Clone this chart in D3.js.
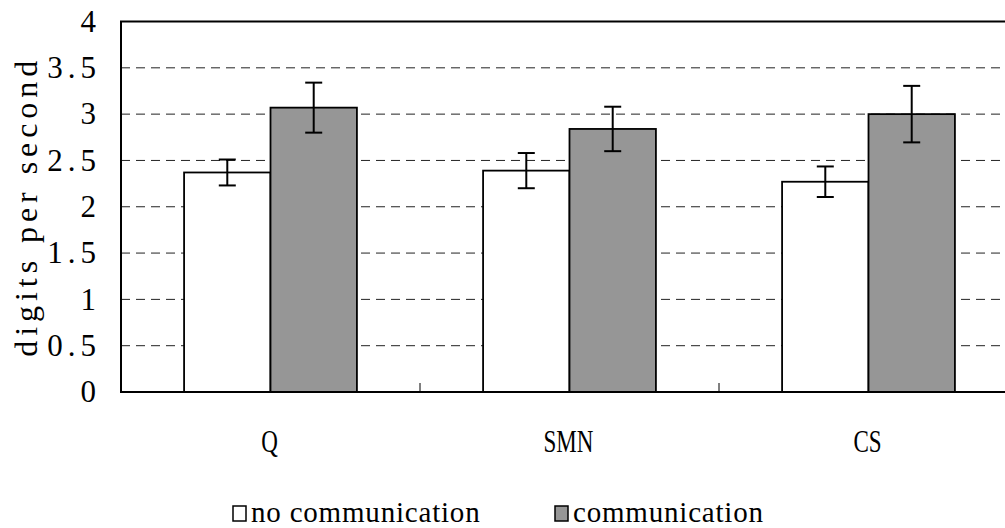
<!DOCTYPE html>
<html>
<head>
<meta charset="utf-8">
<script src="https://cdn.jsdelivr.net/npm/d3@7"></script>
<style>
  body { margin: 0; background: #fff; }
  text { font-family: "Liberation Serif", "DejaVu Serif", serif; fill: #000; }
</style>
</head>
<body>
<svg id="chart" width="1005" height="528"></svg>
<script>
// data
var categories = ["Q", "SMN", "CS"];
var seriesNames = ["no communication", "communication"];
var noComm = [2.37, 2.39, 2.27];
var noCommErr = [0.14, 0.19, 0.165];
var comm = [3.07, 2.84, 3.0];
var commErr = [0.27, 0.24, 0.305];
var yTicks = [0, 0.5, 1, 1.5, 2, 2.5, 3, 3.5, 4];
var seriesColors = ["#ffffff", "#969696"];

var svg = d3.select("#chart");
// note: "top" is taken by window.top, so use plot* names
var plotLeft = 121, plotRight = 1018, plotTop = 21.5, plotBottom = 392;

var x0 = d3.scaleBand().domain(categories).range([plotLeft, plotRight]).padding(0);
var x1 = d3.scaleBand().domain(seriesNames).range([0, x0.bandwidth()])
  .paddingInner(0).paddingOuter(0.73);
var y = d3.scaleLinear().domain([0, 4]).range([plotBottom, plotTop]);

var rows = categories.map(function(c, i) {
  return {
    cat: c,
    values: [
      { name: seriesNames[0], v: noComm[i], e: noCommErr[i], color: seriesColors[0] },
      { name: seriesNames[1], v: comm[i], e: commErr[i], color: seriesColors[1] }
    ]
  };
});

// dashed grid lines
svg.append("g").selectAll("line")
  .data(yTicks.filter(function(d) { return d > 0 && d < 4; }))
  .enter().append("line")
  .attr("x1", plotLeft).attr("x2", plotRight)
  .attr("y1", function(d) { return y(d); })
  .attr("y2", function(d) { return y(d); })
  .attr("stroke", "#222")
  .attr("stroke-width", 1)
  .attr("stroke-dasharray", "9,6");

// bars
var groups = svg.append("g").selectAll("g")
  .data(rows).enter().append("g")
  .attr("transform", function(d) { return "translate(" + x0(d.cat) + ",0)"; });

groups.selectAll("rect")
  .data(function(d) { return d.values; })
  .enter().append("rect")
  .attr("x", function(d) { return x1(d.name); })
  .attr("y", function(d) { return y(d.v); })
  .attr("width", x1.bandwidth())
  .attr("height", function(d) { return y(0) - y(d.v); })
  .attr("fill", function(d) { return d.color; })
  .attr("stroke", "#000")
  .attr("stroke-width", 1.8);

// error bars
var err = groups.selectAll("g.err")
  .data(function(d) { return d.values; })
  .enter().append("g").attr("class", "err")
  .attr("transform", function(d) { return "translate(" + (x1(d.name) + x1.bandwidth() / 2) + ",0)"; });
err.append("line")
  .attr("y1", function(d) { return y(d.v + d.e); })
  .attr("y2", function(d) { return y(d.v - d.e); })
  .attr("stroke", "#000").attr("stroke-width", 2);
err.selectAll("line.cap")
  .data(function(d) { return [d.v + d.e, d.v - d.e]; })
  .enter().append("line").attr("class", "cap")
  .attr("x1", -8.5).attr("x2", 8.5)
  .attr("y1", function(d) { return y(d); })
  .attr("y2", function(d) { return y(d); })
  .attr("stroke", "#000").attr("stroke-width", 2);

// frame
svg.append("rect")
  .attr("x", plotLeft).attr("y", plotTop)
  .attr("width", plotRight - plotLeft).attr("height", plotBottom - plotTop)
  .attr("fill", "none").attr("stroke", "#000").attr("stroke-width", 2);

// category separator ticks (pointing up)
svg.append("g").selectAll("line")
  .data(categories.slice(1))
  .enter().append("line")
  .attr("x1", function(d) { return x0(d); })
  .attr("x2", function(d) { return x0(d); })
  .attr("y1", plotBottom).attr("y2", plotBottom - 9)
  .attr("stroke", "#000").attr("stroke-width", 1);

// y tick labels
svg.append("g").selectAll("text")
  .data(yTicks).enter().append("text")
  .attr("x", 101)
  .attr("y", function(d) { return y(d); })
  .attr("dy", "0.33em")
  .attr("text-anchor", "end")
  .style("font-size", "31px")
  .style("letter-spacing", "5px")
  .text(function(d) { return d3.format("")(d); });

// y axis title
svg.append("text")
  .attr("transform", "translate(37," + ((plotTop + plotBottom) / 2 + 2) + ") rotate(-90)")
  .attr("text-anchor", "middle")
  .attr("textLength", 296)
  .attr("lengthAdjust", "spacing")
  .style("font-size", "32px")
  .text("digits per second");

// category labels (narrow, tall glyphs)
svg.append("g").selectAll("text")
  .data(categories).enter().append("text")
  .attr("transform", function(d) {
    return "translate(" + (x0(d) + x0.bandwidth() / 2 - 1) + ",452) scale(0.72,1)";
  })
  .attr("text-anchor", "middle")
  .style("font-size", "32px")
  .text(function(d) { return d; });

// legend
var legendX = [233, 555];
var legend = svg.append("g").selectAll("g")
  .data(seriesNames).enter().append("g")
  .attr("transform", function(d, i) { return "translate(" + legendX[i] + ",506)"; });
legend.append("rect")
  .attr("width", 13).attr("height", 15)
  .attr("fill", function(d, i) { return seriesColors[i]; })
  .attr("stroke", "#000").attr("stroke-width", 1.5);
legend.append("text")
  .attr("x", 18).attr("y", 16)
  .style("font-size", "29px")
  .style("letter-spacing", "0.8px")
  .text(function(d) { return d; });
</script>
</body>
</html>
